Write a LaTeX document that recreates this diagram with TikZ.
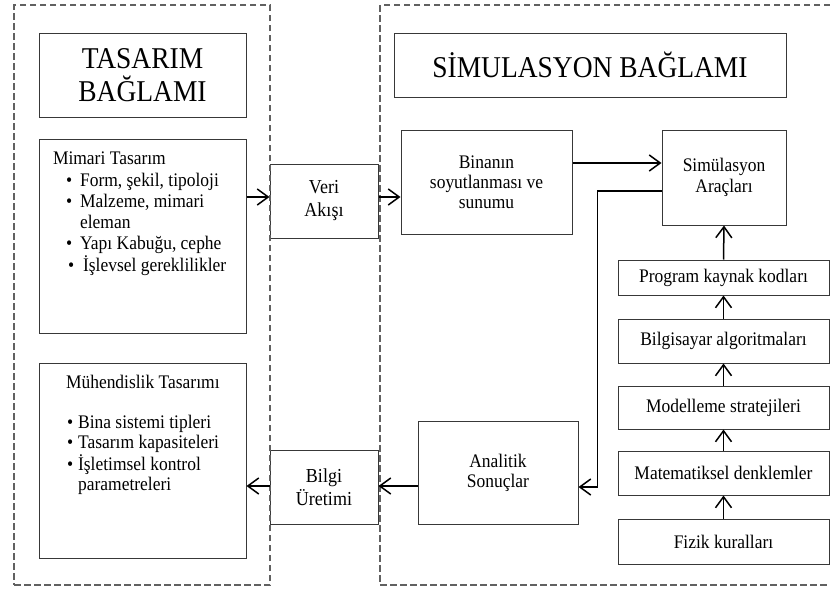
\documentclass[tikz,border=0pt]{standalone}
\usepackage{fontspec}
\setmainfont{Liberation Serif}[FakeStretch=0.91]
\usetikzlibrary{arrows.meta}

\begin{document}
\begin{tikzpicture}[x=1pt,y=-1pt,
  frame/.style={draw=black!62, line width=1.8pt, dash pattern=on 6.5pt off 3.5pt, inner sep=0pt},
  box/.style={draw=black!78, line width=1pt, inner sep=0pt, align=center},
  headtext/.style={font=\fontsize{30.2}{33}\selectfont},
  bodytext/.style={font=\fontsize{19.2}{21}\selectfont},
  plain/.style={inner sep=0pt, outer sep=0pt},
  arr/.style={line width=1.5pt, -{Straight Barb[length=11pt,width=16pt,line width=1.5pt]}}
]
\fill[white] (0,0) rectangle (830,589);
\useasboundingbox (0,0) rectangle (830,589);
\clip (0,0) rectangle (830,589);

% ---------- design context ----------
\node[box, headtext, minimum width=207pt, minimum height=84pt] (tas) at (142.5,75) {TASARIM\\BAĞLAMI};
\node[box, minimum width=207pt, minimum height=194pt] (mim) at (142.5,236) {};
\node[box, minimum width=207pt, minimum height=195pt] (muh) at (142.5,460.5) {};

\node[plain, bodytext, anchor=base west] (mimhead) at (53,164) {Mimari Tasarım};
\node[plain, bodytext, anchor=base west] (mimlist) at (66,186) {%
  \begin{tabular}[t]{@{}l@{\hspace{6pt}}l@{}}
  • & Form, şekil, tipoloji\\
  • & Malzeme, mimari\\
    & eleman\\
  • & Yapı Kabuğu, cephe\\
  \hspace{2pt}• & \hspace{3pt}İşlevsel gereklilikler
  \end{tabular}};

\node[plain, bodytext, anchor=base west] (muhhead) at (66,388) {Mühendislik Tasarımı};
\node[plain, font=\fontsize{19.2}{20.5}\selectfont, anchor=base west] (muhlist) at (67,428) {%
  \begin{tabular}[t]{@{}l@{\hspace{5pt}}l@{}}
  • & Bina sistemi tipleri\\
  • & Tasarım kapasiteleri\\
  • & İşletimsel kontrol\\
    & parametreleri
  \end{tabular}};

% ---------- exchange boxes ----------
\node[box, font=\fontsize{19.8}{23}\selectfont, minimum width=108pt, minimum height=74pt] (veri) at (324,201) {Veri\\Akışı};
\node[box, font=\fontsize{19.8}{23}\selectfont, minimum width=108pt, minimum height=74pt] (bilgi) at (324,487) {Bilgi\\Üretimi};

% ---------- simulation context ----------
\node[box, headtext, minimum width=392pt, minimum height=64pt] (simtitle) at (590,65) {SİMULASYON BAĞLAMI};
\node[box, font=\fontsize{19.2}{20}\selectfont, minimum width=171pt, minimum height=104pt] (bin) at (486.5,182) {Binanın\\soyutlanması ve\\sunumu};
\node[box, bodytext, minimum width=124pt, minimum height=95pt] (arac) at (724,177.5) {Simülasyon\\Araçları};
\node[box, font=\fontsize{19.2}{20}\selectfont, minimum width=160pt, minimum height=103pt] (ana) at (498,472.5) {Analitik\\Sonuçlar};

\node[box, bodytext, minimum width=211pt, minimum height=35pt] (prog) at (723.5,277.5) {Program kaynak kodları};
\node[box, bodytext, minimum width=211pt, minimum height=44pt] (algo) at (723.5,341) {Bilgisayar algoritmaları};
\node[box, bodytext, minimum width=211pt, minimum height=43pt] (model) at (723.5,407.5) {Modelleme stratejileri};
\node[box, bodytext, minimum width=211pt, minimum height=44pt] (mat) at (723.5,473) {Matematiksel denklemler};
\node[box, bodytext, minimum width=211pt, minimum height=45pt] (fiz) at (723.5,541.5) {Fizik kuralları};

% ---------- dashed context frames ----------
\node[frame, minimum width=256pt, minimum height=580pt] (designframe) at (142,295) {};
\node[frame, minimum width=460pt, minimum height=580pt] (simframe) at (610,295) {};

% ---------- connectors ----------
\coordinate (va) at ([yshift=4pt]veri.west);
\draw[arr] (va -| mim.east) -- (va);
\coordinate (vb) at ([yshift=4pt]veri.east);
\draw[arr] (vb) -- (vb -| bin.west);
\coordinate (bs) at (bin.east |- 0,163);
\draw[arr] (bs) -- (bs -| arac.west);
\coordinate (as) at (arac.west |- 0,191);
\draw[arr] (as) -- ++(-64,0) |- (ana.east |- 0,487);
\coordinate (ab) at (ana.west |- 0,486);
\draw[arr] (ab) -- (ab -| bilgi.east);
\coordinate (bm) at (bilgi.west |- 0,486);
\draw[arr] (bm) -- (bm -| muh.east);

\draw[arr] (fiz.north) -- (mat.south);
\draw[arr] (mat.north) -- (model.south);
\draw[arr] (model.north) -- (algo.south);
\draw[arr] (algo.north) -- (prog.south);
\draw[arr] (prog.north) -- (arac.south);
\end{tikzpicture}
\end{document}
